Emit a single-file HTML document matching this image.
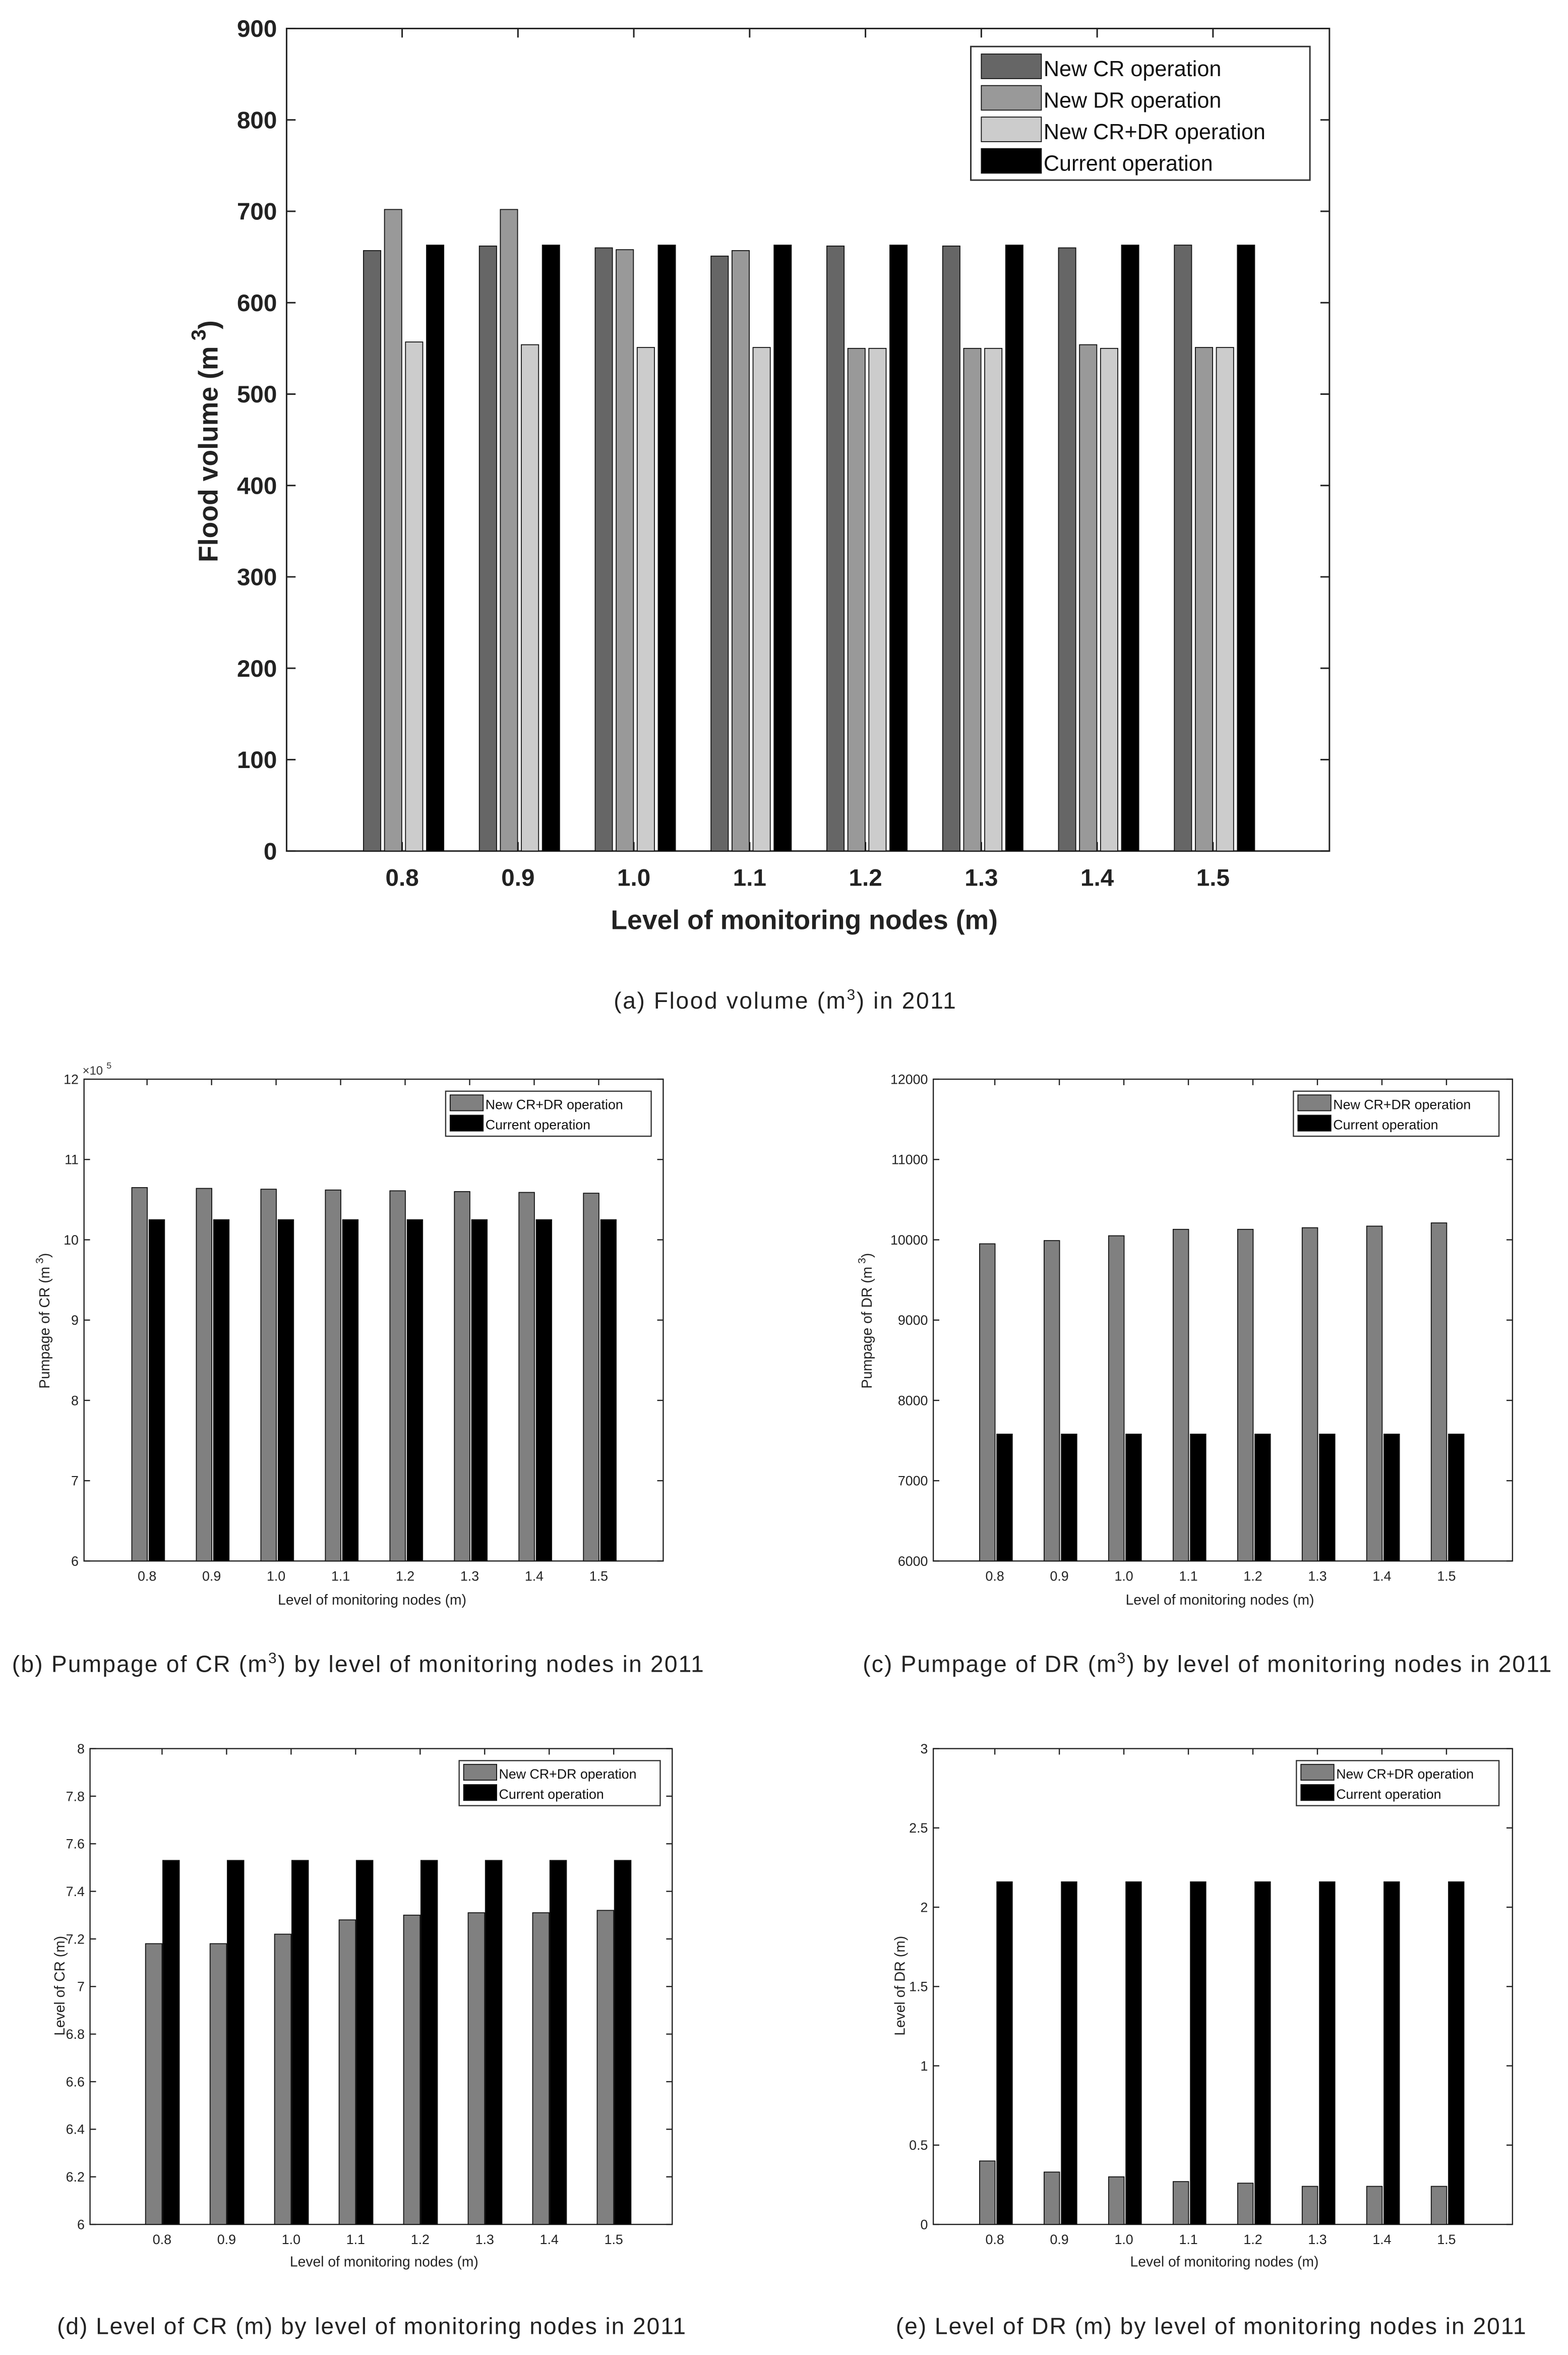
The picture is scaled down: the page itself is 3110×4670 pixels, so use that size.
<!DOCTYPE html>
<html><head><meta charset="utf-8"><style>
html,body{margin:0;padding:0;background:#fff}
svg{display:block}
text{font-family:"Liberation Sans",Arial,sans-serif}
</style></head><body>
<svg id="fig" xmlns="http://www.w3.org/2000/svg" width="3110" height="4670" viewBox="0 0 1045 1569" preserveAspectRatio="none"></svg>
<script>
// ---- data ----
const categories = ["0.8","0.9","1.0","1.1","1.2","1.3","1.4","1.5"];
const aCR   = [657,662,660,651,662,662,660,663];
const aDR   = [702,702,658,657,550,550,554,551];
const aCRDR = [557,554,551,551,550,550,550,551];
const aCur  = [663,663,663,663,663,663,663,663];
const aTicks = [0,100,200,300,400,500,600,700,800,900];
const bNew = [10.65,10.64,10.63,10.62,10.61,10.60,10.59,10.58];
const bCur = [10.25,10.25,10.25,10.25,10.25,10.25,10.25,10.25];
const bTicks = [6,7,8,9,10,11,12];
const cNew = [9950,9990,10050,10130,10130,10150,10170,10210];
const cCur = [7580,7580,7580,7580,7580,7580,7580,7580];
const cTicks = [6000,7000,8000,9000,10000,11000,12000];
const dNew = [7.18,7.18,7.22,7.28,7.30,7.31,7.31,7.32];
const dCur = [7.53,7.53,7.53,7.53,7.53,7.53,7.53,7.53];
const dTicks = [6,6.2,6.4,6.6,6.8,7,7.2,7.4,7.6,7.8,8];
const eNew = [0.40,0.33,0.30,0.27,0.26,0.24,0.24,0.24];
const eCur = [2.16,2.16,2.16,2.16,2.16,2.16,2.16,2.16];
const eTicks = [0,0.5,1,1.5,2,2.5,3];

const NS="http://www.w3.org/2000/svg";
const svg=document.getElementById('fig');
function mk(tag,attrs,parent,text){const e=document.createElementNS(NS,tag);for(const k in attrs)e.setAttribute(k,attrs[k]);if(text!==undefined)e.textContent=text;(parent||svg).appendChild(e);return e;}

function chart(o){
  const g=mk('g',{});
  
  
  const ymin=o.ticks[0], ymax=o.ticks[o.ticks.length-1];
  const y=v=>o.bottom-(v-ymin)/(ymax-ymin)*(o.bottom-o.top);
  const x=i=>o.x0+o.pitch*i;
  const pa=mk('rect',{x:o.left,y:o.top,width:o.right-o.left,height:o.bottom-o.top,fill:'#fff',stroke:'#222','stroke-width':o.sw},g);
  
  
  o.ticks.forEach(t=>{
    const yy=y(t);
    mk('line',{x1:o.left,x2:o.left+o.tl,y1:yy,y2:yy,stroke:'#222','stroke-width':o.sw},g);
    mk('line',{x1:o.right,x2:o.right-o.tl,y1:yy,y2:yy,stroke:'#222','stroke-width':o.sw},g);
    const lab=mk('text',{x:o.left-o.tfs*0.4,y:yy+o.tfs*0.35,'text-anchor':'end','font-size':o.tfs,'font-weight':o.bold?'bold':'normal',fill:'#222'},g,o.fmt?o.fmt(t):String(t));
    
    
  });
  categories.forEach((c,i)=>{
    const xx=x(i);
    mk('line',{x1:xx,x2:xx,y1:o.top,y2:o.top+o.tl,stroke:'#222','stroke-width':o.sw},g);
    mk('line',{x1:xx,x2:xx,y1:o.bottom,y2:o.bottom-o.tl,stroke:'#222','stroke-width':o.sw},g);
    const lab=mk('text',{x:xx,y:o.bottom+o.tfs*1.45,'text-anchor':'middle','font-size':o.tfs,'font-weight':o.bold?'bold':'normal',fill:'#222'},g,c);
    
    
    o.series.forEach((s,si)=>{
      const cx=xx+o.offsets[si];
      const v=s.data[i];
      const r=mk('rect',{x:cx-o.bw/2,y:y(v),width:o.bw,height:o.bottom-y(v),fill:s.color,stroke:'#111','stroke-width':0.6},g);
      
      
    });
  });
  // legend
  const L=o.legend;
  const lb=mk('rect',{x:L.x,y:L.y,width:L.w,height:L.h,fill:'#fff',stroke:'#333','stroke-width':o.sw},g);
  
  
  o.series.forEach((s,si)=>{
    const yy=L.y+L.pad+si*L.row;
    mk('rect',{x:L.x+L.sx,y:yy,width:L.sw,height:L.row*0.78,fill:s.color,stroke:'#111','stroke-width':0.6},g);
    const t=mk('text',{x:L.x+L.sx+L.sw+1.5,y:yy+L.row*0.7,'font-size':L.fs,fill:'#111'},g,s.label);
    
    
  });
  const xt=mk('text',{x:o.xt[0],y:o.xt[1],'text-anchor':'middle','font-size':o.xfs,'font-weight':o.bold?'bold':'normal',fill:'#222'},g,'Level of monitoring nodes (m)');
  
  
  const yt=mk('text',{x:0,y:0,'text-anchor':'middle','font-size':o.xfs,'font-weight':o.bold?'bold':'normal',fill:'#222',transform:`translate(${o.yt[0]},${o.yt[1]}) rotate(-90)`},g);
  
  
  mk('tspan',{},yt,o.ytitle+' (m');
  if(o.sup){mk('tspan',{dy:-o.xfs*0.45,'font-size':o.xfs*0.75},yt,' 3');mk('tspan',{dy:o.xfs*0.45},yt,')');}
  else mk('tspan',{},yt,')');
  return g;
}

const C1='#666',C2='#999',C3='#ccc',C4='#000',G='#808080';
chart({name:'chart-a-flood-volume',left:191,right:886,top:19,bottom:567,ticks:aTicks,x0:268,pitch:77.2,
  offsets:[-20,-6,8,22],bw:11.5,tfs:16,bold:true,sw:1,tl:6,xfs:18,
  series:[{key:'new-cr',label:'New CR operation',data:aCR,color:C1},{key:'new-dr',label:'New DR operation',data:aDR,color:C2},{key:'new-crdr',label:'New CR+DR operation',data:aCRDR,color:C3},{key:'current',label:'Current operation',data:aCur,color:C4}],
  legend:{x:647,y:31,w:226,h:89,pad:5,row:21,sx:7,sw:40,fs:14.5},xt:[536,619],yt:[145,294],ytitle:'Flood volume',sup:true});
chart({name:'chart-b-pumpage-cr',left:56,right:442,top:719,bottom:1040,ticks:bTicks,x0:98,pitch:43,
  offsets:[-5,6.5],bw:10.3,tfs:9,sw:0.8,tl:4,xfs:9.5,
  series:[{key:'new-crdr',label:'New CR+DR operation',data:bNew,color:G},{key:'current',label:'Current operation',data:bCur,color:C4}],
  legend:{x:297,y:727,w:137,h:30,pad:2.5,row:13.5,sx:3,sw:22,fs:9},xt:[248,1069],yt:[33,880],ytitle:'Pumpage of CR',sup:true});
mk('text',{x:55,y:716,'font-size':8,fill:'#333'},null,'×10');
mk('text',{x:71,y:712,'font-size':6,fill:'#333'},null,'5');
chart({name:'chart-c-pumpage-dr',left:622,right:1008,top:719,bottom:1040,ticks:cTicks,x0:663,pitch:43,
  offsets:[-5,6.5],bw:10.3,tfs:9,sw:0.8,tl:4,xfs:9.5,
  series:[{key:'new-crdr',label:'New CR+DR operation',data:cNew,color:G},{key:'current',label:'Current operation',data:cCur,color:C4}],
  legend:{x:862,y:727,w:137,h:30,pad:2.5,row:13.5,sx:3,sw:22,fs:9},xt:[813,1069],yt:[581,880],ytitle:'Pumpage of DR',sup:true});
chart({name:'chart-d-level-cr',left:60,right:448,top:1165,bottom:1482,ticks:dTicks,x0:108,pitch:43,
  offsets:[-5.5,6],bw:11,tfs:9,sw:0.8,tl:4,xfs:9.5,fmt:t=>String(Math.round(t*10)/10),
  series:[{key:'new-crdr',label:'New CR+DR operation',data:dNew,color:G},{key:'current',label:'Current operation',data:dCur,color:C4}],
  legend:{x:306,y:1173,w:134,h:30,pad:2.5,row:13.5,sx:3,sw:22,fs:9},xt:[256,1510],yt:[43,1323],ytitle:'Level of CR',sup:false});
chart({name:'chart-e-level-dr',left:622,right:1008,top:1165,bottom:1482,ticks:eTicks,x0:663,pitch:43,
  offsets:[-5,6.5],bw:10.3,tfs:9,sw:0.8,tl:4,xfs:9.5,
  series:[{key:'new-crdr',label:'New CR+DR operation',data:eNew,color:G},{key:'current',label:'Current operation',data:eCur,color:C4}],
  legend:{x:864,y:1173,w:135,h:30,pad:2.5,row:13.5,sx:3,sw:22,fs:9},xt:[816,1510],yt:[603,1323],ytitle:'Level of DR',sup:false});

function caption(x,y,w,parts,name){
  const t=mk('text',{x:x,y:y,'font-size':15.5,fill:'#222',textLength:w,lengthAdjust:'spacing'});
  
  
  parts.forEach(p=>{ if(p.sup){mk('tspan',{dy:-6,'font-size':10},t,p.s);} else mk('tspan',p.down?{dy:6}:{},t,p.s); });
}
caption(409,672,228,[{s:'(a) Flood volume (m'},{s:'3',sup:true},{s:') in 2011',down:true}],'caption-a');
caption(8,1114,461,[{s:'(b) Pumpage of CR (m'},{s:'3',sup:true},{s:') by level of monitoring nodes in 2011',down:true}],'caption-b');
caption(575,1114,459,[{s:'(c) Pumpage of DR (m'},{s:'3',sup:true},{s:') by level of monitoring nodes in 2011',down:true}],'caption-c');
caption(38,1555,419,[{s:'(d) Level of CR (m) by level of monitoring nodes in 2011'}],'caption-d');
caption(597,1555,420,[{s:'(e) Level of DR (m) by level of monitoring nodes in 2011'}],'caption-e');
</script>
</body></html>
